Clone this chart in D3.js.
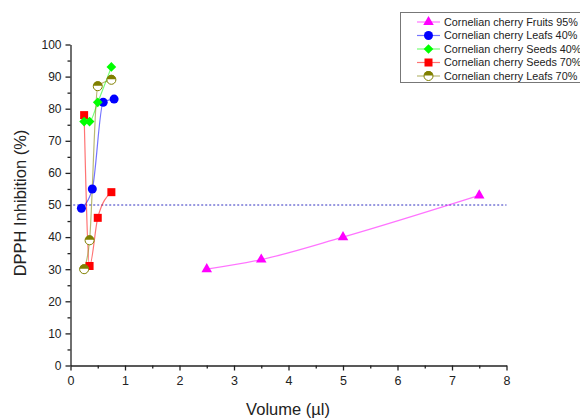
<!DOCTYPE html>
<html><head><meta charset="utf-8">
<script src="https://cdn.jsdelivr.net/npm/d3@7"></script>
<style>body{margin:0;background:#fff}svg{display:block;font-family:Arial,"Liberation Sans",sans-serif}</style>
</head><body><svg id="c" width="580" height="419"></svg>
<script>
const seriesNames = ["Cornelian cherry Fruits 95%","Cornelian cherry Leafs 40%","Cornelian cherry Seeds 40%","Cornelian cherry Seeds 70%","Cornelian cherry Leafs 70%"];
const seriesColors = ["#ff00ff","#0000ff","#00ff00","#ff0000","#808000"];
const seriesMarkers = ["triangle","circle","diamond","square","half"];
const fruits95X = [2.5,3.5,5,7.5];
const fruits95Y = [30,33,40,53];
const leafs40X = [0.2,0.4,0.6,0.8];
const leafs40Y = [49,55,82,83];
const seeds40X = [0.25,0.35,0.5,0.75];
const seeds40Y = [76,76,82,93];
const seeds70X = [0.25,0.35,0.5,0.75];
const seeds70Y = [78,31,46,54];
const leafs70X = [0.25,0.35,0.5,0.75];
const leafs70Y = [30,39,87,89];
const refLineY = 50;
const xTicks = [0,1,2,3,4,5,6,7,8];
const yTicks = [0,10,20,30,40,50,60,70,80,90,100];

const seriesX = [fruits95X,leafs40X,seeds40X,seeds70X,leafs70X];
const seriesY = [fruits95Y,leafs40Y,seeds40Y,seeds70Y,leafs70Y];

const svg = d3.select("#c");
const x = d3.scaleLinear().domain([0,8]).range([70.5,506.5]);
const y = d3.scaleLinear().domain([0,100]).range([365.5,44.5]);

// axes
const xAxis = d3.axisBottom(x).tickValues(xTicks).tickSize(5).tickSizeOuter(0).tickFormat(d3.format("d"));
const gx = svg.append("g").attr("transform","translate(0,365.5)").call(xAxis);
gx.selectAll(".tick text").attr("font-size",12.5).attr("fill","#222").attr("y",8).attr("dy","0.95em");
gx.selectAll("line,path").attr("stroke","#222").attr("stroke-width",1.3);
svg.append("g").attr("transform","translate(0,365.5)")
  .call(d3.axisBottom(x).tickValues(d3.range(0.5,8,1)).tickSize(3).tickSizeOuter(0).tickFormat(""))
  .call(g=>{g.select(".domain").remove();g.selectAll("line").attr("stroke","#222").attr("stroke-width",1.3);});

const yAxis = d3.axisLeft(y).tickValues(yTicks).tickSize(5).tickSizeOuter(0);
const gy = svg.append("g").attr("transform","translate(70.5,0)").call(yAxis);
gy.selectAll(".tick text").attr("font-size",12).attr("fill","#222").attr("x",-9);
gy.selectAll("line,path").attr("stroke","#222").attr("stroke-width",1.3);
svg.append("g").attr("transform","translate(70.5,0)")
  .call(d3.axisLeft(y).tickValues(d3.range(5,100,10)).tickSize(3).tickSizeOuter(0).tickFormat(""))
  .call(g=>{g.select(".domain").remove();g.selectAll("line").attr("stroke","#222").attr("stroke-width",1.3);});

svg.append("text").attr("x",288).attr("y",415).attr("text-anchor","middle").attr("font-size",16.5).attr("fill","#222").text("Volume (\u00b5l)");
svg.append("text").attr("transform","translate(26,203) rotate(-90)").attr("text-anchor","middle").attr("font-size",16.5).attr("fill","#222").text("DPPH Inhibition (%)");

// reference line
svg.append("line").attr("x1",x(0.05)).attr("x2",x(8)).attr("y1",y(refLineY)).attr("y2",y(refLineY))
  .attr("stroke","#3030c0").attr("stroke-width",1).attr("stroke-dasharray","2,2");

function marker(g, type, color, cx, cy){
  if(type==="triangle"){
    g.append("path").attr("d",d3.symbol(d3.symbolTriangle,48)()).attr("transform",`translate(${cx},${cy})`).attr("fill",color);
  } else if(type==="circle"){
    g.append("circle").attr("cx",cx).attr("cy",cy).attr("r",4.5).attr("fill",color);
  } else if(type==="diamond"){
    g.append("path").attr("d",d3.symbol(d3.symbolDiamond2,60)()).attr("transform",`translate(${cx},${cy})`).attr("fill",color);
  } else if(type==="square"){
    g.append("rect").attr("x",cx-4).attr("y",cy-4).attr("width",8).attr("height",8).attr("fill",color);
  } else {
    const r=4.5;
    g.append("circle").attr("cx",cx).attr("cy",cy).attr("r",r).attr("fill","#fff").attr("stroke",color).attr("stroke-width",1);
    g.append("path").attr("d",`M${cx-r},${cy-0.5} A${r},${r} 0 0 1 ${cx+r},${cy-0.5} Z`).attr("fill",color);
  }
}

const line = d3.line().x(d=>x(d[0])).y(d=>y(d[1])).curve(d3.curveMonotoneX);
const order = [0,1,3,2,4];
order.forEach(i=>{
  const pts = seriesX[i].map((v,j)=>[v,seriesY[i][j]]);
  svg.append("path").datum(pts).attr("d",line).attr("fill","none").attr("stroke",seriesColors[i]).attr("stroke-opacity",0.55).attr("stroke-width",1.2);
});
order.forEach(i=>{
  const g = svg.append("g");
  seriesX[i].forEach((v,j)=>marker(g,seriesMarkers[i],seriesColors[i],x(v),y(seriesY[i][j])));
});

// legend
const lg = svg.append("g");
lg.append("rect").attr("x",400.5).attr("y",12.5).attr("width",185).attr("height",70).attr("fill","#fff").attr("stroke","#777").attr("stroke-width",1);
seriesNames.forEach((n,i)=>{
  const yy = 22 + i*13.5;
  lg.append("line").attr("x1",417).attr("x2",440).attr("y1",yy).attr("y2",yy).attr("stroke",seriesColors[i]).attr("stroke-opacity",0.55).attr("stroke-width",1.2);
  marker(lg,seriesMarkers[i],seriesColors[i],428.5,yy);
  lg.append("text").attr("x",444).attr("y",yy+3.7).attr("font-size",10.8).attr("fill","#222").text(n);
});
</script></body></html>
